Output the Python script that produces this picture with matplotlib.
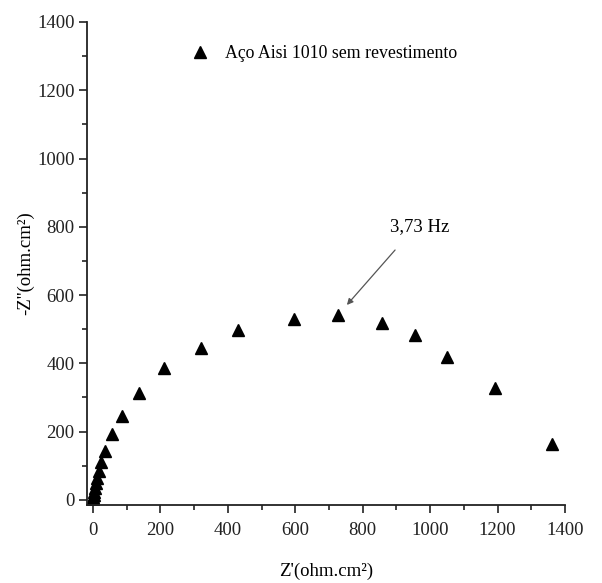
import matplotlib
matplotlib.use("Agg")
import matplotlib.pyplot as plt
from matplotlib.ticker import MultipleLocator

# Nyquist data, aco AISI 1010 sem revestimento
z_real = [0, 1, 2, 3, 5, 8, 12, 18, 24, 35, 56, 86, 136, 210, 320, 430,
          596, 727, 857, 955, 1050, 1192, 1361]
z_imag = [3, 9, 15, 23, 34, 48, 65, 85, 111, 143, 193, 246, 313, 386, 445, 498,
          530, 542, 518, 483, 419, 328, 164]
serie_label = "Aço Aisi 1010 sem revestimento"
freq_label = "3,73 Hz"
freq_text_pos = (970, 802)
arrow_start = (896, 732)
arrow_end = (753, 571)

plt.rcParams['font.family'] = ['Liberation Serif', 'DejaVu Serif']

fig = plt.figure(figsize=(6.02, 5.83), dpi=100)
ax = fig.add_axes([0.1445, 0.1338, 0.794, 0.8285])

ax.plot(z_real, z_imag, linestyle='none', marker='^', color='black', ms=8,
        label=serie_label)

ax.set_xlim(-18, 1400)
ax.set_ylim(-15, 1400)
ax.xaxis.set_major_locator(MultipleLocator(200))
ax.xaxis.set_minor_locator(MultipleLocator(100))
ax.yaxis.set_major_locator(MultipleLocator(200))
ax.yaxis.set_minor_locator(MultipleLocator(100))

for s in ['top', 'right']:
    ax.spines[s].set_visible(False)
for s in ['left', 'bottom']:
    ax.spines[s].set_linewidth(1.3)
    ax.spines[s].set_color('#222222')

ax.tick_params(which='major', direction='out', length=6, width=1.2,
               labelsize=13.5, colors='#222222')
ax.tick_params(axis='x', which='major', pad=6)
ax.tick_params(axis='y', which='major', pad=3)
ax.tick_params(which='minor', direction='out', length=3.5, width=1.2,
               colors='#222222')

ax.set_xlabel("Z'(ohm.cm²)", fontsize=13.5, labelpad=17)
ax.set_ylabel("-Z''(ohm.cm²)", fontsize=13.5, labelpad=2)

ax.legend(loc='upper left', bbox_to_anchor=(0.165, 0.985), frameon=False,
          fontsize=12.8, handletextpad=0.45, markerscale=1.0)

ax.text(freq_text_pos[0], freq_text_pos[1], freq_label, fontsize=13.5,
        ha='center', va='center')
ax.annotate('', xy=arrow_end, xycoords='data',
            xytext=arrow_start, textcoords='data',
            arrowprops=dict(arrowstyle='-|>', color='#555555', lw=0.9,
                            mutation_scale=9, shrinkA=0, shrinkB=0))

fig.savefig("out.png", dpi=100)
